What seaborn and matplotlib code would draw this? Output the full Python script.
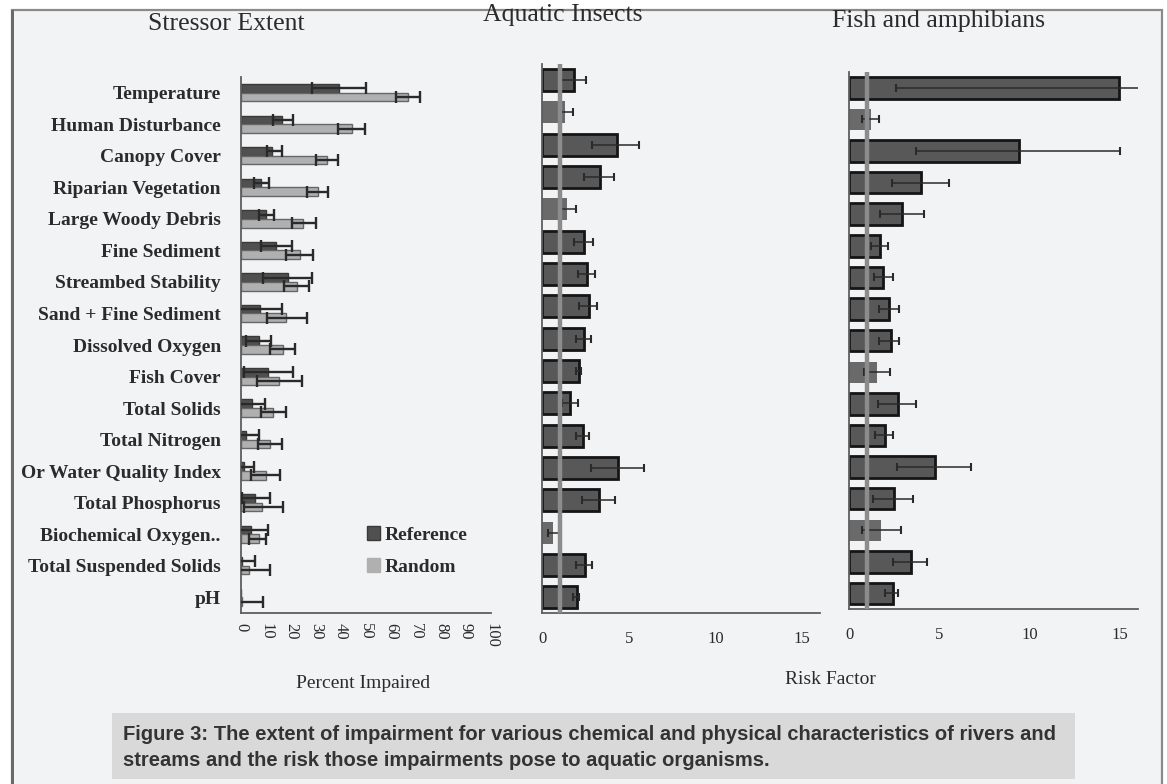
import matplotlib
matplotlib.use("Agg")
import matplotlib.pyplot as plt
from matplotlib.patches import Rectangle, Patch
from matplotlib.ticker import MultipleLocator, FixedLocator
import numpy as np
import pandas as pd
import seaborn as sns

# ---------------- data ----------------
categories = ["Temperature", "Human Disturbance", "Canopy Cover", "Riparian Vegetation",
              "Large Woody Debris", "Fine Sediment", "Streambed Stability",
              "Sand + Fine Sediment", "Dissolved Oxygen", "Fish Cover", "Total Solids",
              "Total Nitrogen", "Or Water Quality Index", "Total Phosphorus",
              "Biochemical Oxygen..", "Total Suspended Solids", "pH"]

# Stressor extent (percent impaired)
ref_pct = [39.2, 16.3, 12.5, 8.0, 10.0, 14.0, 18.7, 7.6, 7.0, 10.9, 4.3, 2.0, 1.0, 5.7, 4.0, 0.3, 0.0]
ref_lo = [28.3, 12.7, 10.3, 5.3, 7.3, 8.0, 8.9, -1.0, 2.0, 1.0, -0.5, -3.0, -3.0, 0.3, -3.0, -4.5, 0.0]
ref_hi = [49.9, 20.7, 16.3, 11.2, 13.3, 20.3, 28.5, 16.3, 11.9, 20.9, 9.6, 7.3, 5.2, 11.6, 10.9, 5.6, 0.0]
rnd_pct = [66.7, 44.3, 34.3, 30.7, 24.9, 23.7, 22.3, 18.0, 16.7, 15.3, 12.9, 11.6, 9.9, 8.5, 7.0, 3.2, 0.4]
rnd_lo = [61.9, 38.7, 30.1, 26.4, 20.5, 18.0, 17.3, 10.3, 11.6, 6.3, 8.0, 6.7, 3.9, 1.0, 3.2, -5.0, -8.0]
rnd_hi = [71.7, 49.6, 38.9, 34.8, 29.9, 28.9, 27.2, 26.3, 21.7, 24.3, 18.0, 16.5, 15.6, 16.7, 10.0, 11.6, 8.9]
series_names = ["Reference", "Random"]

# Aquatic insects (risk factor)
ins_val = [1.83, 1.31, 4.29, 3.33, 1.44, 2.40, 2.60, 2.69, 2.42, 2.14, 1.60, 2.37, 4.39, 3.27, 0.64, 2.46, 1.98]
ins_lo = [1.02, 0.98, 2.85, 2.42, 0.98, 1.85, 2.04, 2.12, 1.93, 1.93, 1.12, 1.93, 2.79, 2.31, 0.31, 1.94, 1.79]
ins_hi = [2.52, 1.75, 5.60, 4.15, 1.92, 2.94, 3.04, 3.17, 2.79, 2.23, 2.04, 2.69, 5.89, 4.20, 1.02, 2.88, 2.13]
ins_sig = [1, 0, 1, 1, 0, 1, 1, 1, 1, 1, 1, 1, 1, 1, 0, 1, 1]

# Fish and amphibians (risk factor)
fish_val = [14.95, 1.18, 9.40, 3.97, 2.94, 1.70, 1.88, 2.21, 2.29, 1.52, 2.71, 1.98, 4.75, 2.48, 1.74, 3.40, 2.40]
fish_lo = [2.57, 0.72, 3.69, 2.38, 1.70, 1.18, 1.38, 1.64, 1.66, 0.81, 1.61, 1.42, 2.62, 1.33, 0.69, 2.44, 1.98]
fish_hi = [16.50, 1.64, 14.99, 5.54, 4.14, 2.16, 2.44, 2.75, 2.77, 2.25, 3.69, 2.44, 6.72, 3.54, 2.85, 4.29, 2.68]
fish_sig = [1, 0, 1, 1, 1, 1, 1, 1, 1, 0, 1, 1, 1, 1, 0, 1, 1]

risk_threshold = 1.0

# ---------------- styling ----------------
W, H = 1167, 784
sns.set_theme(style="white")
plt.rcParams["font.family"] = ["Liberation Serif", "DejaVu Serif"]

BG = "#f2f3f4"
TXT = "#2b2b2b"
DARK = "#505050"
LIGHT = "#b0b0b0"
SPINE = "#5e5e5e"

fig = plt.figure(figsize=(W / 100, H / 100), dpi=100)
fig.patch.set_facecolor("white")

def fx(px):
    return px / W

def fy(py):
    return 1 - py / H

# outer frame
fig.patches.append(Rectangle((fx(12), fy(800)), fx(1162) - fx(12), fy(10) - fy(800),
                             transform=fig.transFigure, facecolor=BG, edgecolor="#8a8a8a",
                             lw=1.6, zorder=-3))
fig.patches.append(Rectangle((fx(11), fy(800)), fx(2.5), fy(10) - fy(800),
                             transform=fig.transFigure, facecolor="#6a6a6a", edgecolor="none",
                             zorder=-2))
# caption box
fig.patches.append(Rectangle((fx(112), fy(779)), fx(1075) - fx(112), fy(713) - fy(779),
                             transform=fig.transFigure, facecolor="#d9d9d9", edgecolor="none",
                             zorder=-1))

def style_axis(ax):
    ax.set_facecolor("none")
    for s in ["top", "right"]:
        ax.spines[s].set_visible(False)
    for s in ["left", "bottom"]:
        ax.spines[s].set_color(SPINE)
        ax.spines[s].set_linewidth(1.3)
    n = len(categories)
    ax.set_ylim(n - 0.5, -0.5)
    ax.yaxis.set_minor_locator(FixedLocator(np.arange(-0.5, n, 1.0)))
    ax.tick_params(axis="y", which="major", length=0)
    ax.tick_params(axis="y", which="minor", length=4, width=1, color=SPINE, direction="out")
    ax.set_xlabel("")
    ax.set_ylabel("")

# ---------------- panel 1: stressor extent ----------------
ax1 = fig.add_axes([fx(241), fy(613), fx(491) - fx(241), fy(77) - fy(613)])
BAR_W1 = 0.55
df1 = pd.DataFrame({
    "category": categories * 2,
    "value": ref_pct + rnd_pct,
    "series": [series_names[0]] * len(categories) + [series_names[1]] * len(categories),
})
sns.barplot(data=df1, y="category", x="value", hue="series", orient="h",
            palette=[DARK, LIGHT], width=BAR_W1, errorbar=None, legend=False, ax=ax1,
            saturation=1)
edges = ["#3a3a3a", "#666666"]
for bar in ax1.patches:
    yc = bar.get_y() + bar.get_height() / 2
    k = 0 if yc < round(yc) else 1
    bar.set_edgecolor(edges[k])
    bar.set_linewidth(1.0)

idx = np.arange(len(categories))
for k, (vals, lo, hi) in enumerate([(ref_pct, ref_lo, ref_hi), (rnd_pct, rnd_lo, rnd_hi)]):
    ys = idx + (k - 0.5) * BAR_W1 / 2
    v = np.array(vals)
    el = v - np.array(lo)
    eh = np.array(hi) - v
    has = (el + eh) > 0
    ax1.errorbar(v[has], ys[has], xerr=[el[has], eh[has]], fmt="none", ecolor="#2a2a2a",
                 elinewidth=1.7, capsize=4.5, capthick=1.7, zorder=5)
ax1.set_xlim(0, 100)
style_axis(ax1)
ax1.xaxis.set_major_locator(MultipleLocator(10))
ax1.tick_params(axis="x", which="major", length=4, width=1, color=SPINE, direction="out",
                labelsize=12, labelcolor=TXT, pad=3)
for lbl in ax1.get_xticklabels():
    lbl.set_rotation(-90)
    lbl.set_va("top")
ax1.tick_params(axis="y", labelsize=14, labelcolor=TXT, pad=14.5)
for lbl in ax1.get_yticklabels():
    lbl.set_fontweight("bold")

leg = ax1.legend(handles=[Patch(facecolor=DARK, edgecolor="#3a3a3a", label=series_names[0]),
                          Patch(facecolor=LIGHT, edgecolor=LIGHT, label=series_names[1])],
                 loc="upper left", bbox_to_anchor=(0.504, 0.162), frameon=False,
                 borderaxespad=0, handlelength=0.65, handleheight=0.7, handletextpad=0.25,
                 labelspacing=0.75, borderpad=0, prop={"weight": "bold", "size": 14})
for t in leg.get_texts():
    t.set_color(TXT)

# ---------------- panels 2 & 3: risk factors ----------------
def risk_panel(rect, vals, lo, hi, sig):
    ax = fig.add_axes(rect)
    df = pd.DataFrame({"category": categories, "value": vals})
    sns.barplot(data=df, y="category", x="value", orient="h", color="#5a5a5a",
                width=0.68, errorbar=None, ax=ax, saturation=1)
    for bar in ax.patches:
        i = int(round(bar.get_y() + bar.get_height() / 2))
        if sig[i]:
            bar.set_facecolor("#585858")
            bar.set_edgecolor("#151515")
            bar.set_linewidth(2.0)
        else:
            bar.set_facecolor("#6a6a6a")
            bar.set_edgecolor("none")
    v = np.array(vals)
    el = v - np.array(lo)
    eh = np.array(hi) - v
    ax.errorbar(v, np.arange(len(categories)), xerr=[el, eh], fmt="none", ecolor="#2a2a2a",
                elinewidth=1.1, capsize=3, capthick=1.5, zorder=5)
    ax.axvline(risk_threshold, color="#8c8c8c", lw=3.2, zorder=6)
    ax.set_xlim(0, 16)
    style_axis(ax)
    ax.set_yticklabels([])
    ax.xaxis.set_major_locator(FixedLocator([0, 5, 10, 15]))
    ax.xaxis.set_minor_locator(MultipleLocator(1))
    ax.tick_params(axis="x", which="both", length=4, width=1, color=SPINE, direction="out",
                   labelsize=12, labelcolor=TXT, pad=9)
    return ax

ax2 = risk_panel([fx(542.3), fy(613.3), fx(819.6) - fx(542.3), fy(64) - fy(613.3)],
                 ins_val, ins_lo, ins_hi, ins_sig)
ax3 = risk_panel([fx(849.3), fy(609.3), fx(1138.3) - fx(849.3), fy(72) - fy(609.3)],
                 fish_val, fish_lo, fish_hi, fish_sig)

# ---------------- text ----------------
fig.text(fx(226), fy(24), "Stressor Extent", ha="center", va="center", fontsize=18.5, color=TXT)
fig.text(fx(563), fy(15), "Aquatic Insects", ha="center", va="center", fontsize=18.5, color=TXT)
fig.text(fx(938), fy(21), "Fish and amphibians", ha="center", va="center", fontsize=18.5, color=TXT)
fig.text(fx(363), fy(683), "Percent Impaired", ha="center", va="center", fontsize=14, color=TXT)
fig.text(fx(830), fy(680), "Risk Factor", ha="center", va="center", fontsize=14, color=TXT)

cap_kw = dict(ha="left", va="center", fontsize=14.5, fontweight="bold", color="#333333",
              family=["Liberation Sans", "DejaVu Sans"])
fig.text(fx(123), fy(734), "Figure 3: The extent of impairment for various chemical and physical "
         "characteristics of rivers and", **cap_kw)
fig.text(fx(123), fy(760), "streams and the risk those impairments pose to aquatic organisms.", **cap_kw)

fig.savefig("out.png", dpi=100, facecolor=fig.get_facecolor())
